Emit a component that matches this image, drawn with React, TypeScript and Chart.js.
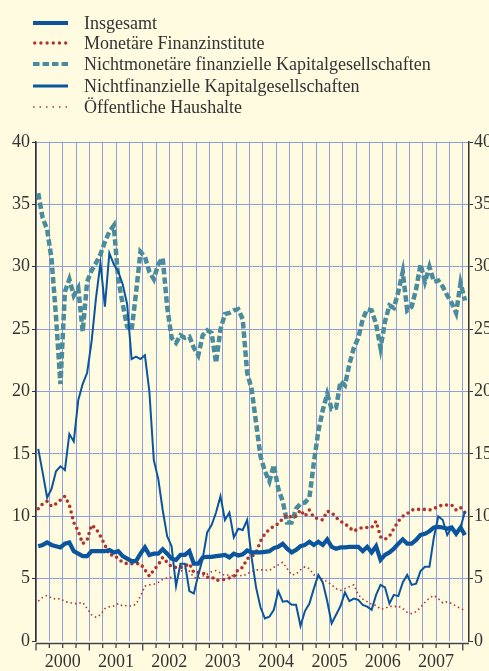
import React, { useEffect, useRef } from "react";
import { Chart, registerables } from "chart.js";

Chart.register(...registerables);

// Monthly values, Jan 2000 onwards (index 0 = Jan 2000)
const years = ["2000", "2001", "2002", "2003", "2004", "2005", "2006", "2007"];

const insgesamt = [
  7.6, 7.7, 7.9, 7.7, 7.6, 7.5, 7.8, 7.9, 7.2, 7.0, 6.8, 6.8,
  7.2, 7.2, 7.2, 7.2, 7.3, 7.1, 7.2, 6.8, 6.6, 6.4, 6.4, 7.0,
  7.5, 6.9, 7.0, 7.0, 7.35, 7.0, 6.6, 6.5, 6.9, 6.9, 7.2, 6.2,
  6.2, 6.7, 6.75, 6.75, 6.8, 6.85, 6.9, 6.7, 7.0, 6.85, 6.95, 7.25,
  7.1, 7.1, 7.1, 7.15, 7.2, 7.45, 7.55, 7.8, 7.4, 7.1, 7.3, 7.6,
  7.7, 7.95, 7.7, 7.95, 7.7, 8.15, 7.55, 7.4, 7.5, 7.5, 7.55, 7.55,
  7.55, 7.2, 7.55, 7.1, 7.6, 6.5, 6.9, 7.1, 7.4, 7.8, 8.15, 7.8,
  7.8, 8.1, 8.5, 8.6, 8.8, 9.1, 9.15, 9.1, 9.0, 9.1, 8.6, 9.1,
  8.5,
];

const monetaereFinanzinstitute = [
  10.6, 11.0, 11.2, 10.8, 11.0, 11.3, 11.6, 10.9, 9.5, 8.8, 7.8, 8.1,
  9.3, 9.0, 8.4, 7.7, 6.9, 6.9, 6.6, 6.3, 6.2, 6.2, 6.2, 6.2,
  5.7, 5.2, 5.7, 6.1, 6.7, 6.3, 5.95, 5.9, 5.9, 6.0, 6.2, 5.5,
  5.5, 5.5, 5.1, 5.15, 4.85, 4.9, 4.95, 5.05, 5.15, 5.75, 5.9, 6.6,
  6.75, 7.1, 8.0, 8.6, 8.95, 9.2, 9.4, 9.8, 10.1, 9.9, 10.0, 10.5,
  10.0, 10.5, 9.9, 9.8, 9.7, 10.4, 10.3, 9.9, 9.6, 9.4, 9.1, 8.8,
  9.0, 9.1, 9.1, 9.1, 9.6, 8.35, 8.15, 8.4, 9.0, 9.6, 10.0, 10.2,
  10.5, 10.55, 10.55, 10.55, 10.5, 10.6, 10.8, 10.9, 10.9, 10.9, 10.5, 10.7,
  10.3,
];

const nichtmonetaereFinanz = [
  35.9, 33.9, 33.0, 30.6, 26.0, 20.6, 28.0, 29.0, 27.7, 28.3, 24.8, 28.8,
  29.7, 30.3, 31.0, 32.0, 32.8, 33.3, 29.0, 27.0, 25.2, 24.9, 27.9, 31.2,
  30.8, 29.6, 29.0, 30.2, 30.7, 26.8, 24.3, 23.9, 24.5, 24.3, 24.4, 23.5,
  22.9, 24.5, 24.9, 24.7, 22.3, 25.0, 26.2, 26.3, 26.5, 26.6, 25.8, 21.5,
  20.2, 17.5, 14.8, 13.6, 12.8, 14.1, 12.2, 11.2, 9.5, 9.5, 10.6, 11.0,
  11.1, 11.5, 14.3, 16.8, 18.5, 19.8, 18.6, 18.7, 20.8, 20.5, 22.2, 23.5,
  24.3, 25.8, 26.6, 26.5, 25.4, 23.5, 25.6, 26.9, 26.7, 28.0, 29.6, 26.5,
  26.8, 28.2, 30.2, 28.8, 30.0, 28.8, 28.9, 28.4, 27.7, 27.1, 26.3, 28.7,
  27.3,
];

const nichtfinanzielle = [
  15.4, 13.5, 11.5, 12.2, 13.6, 14.0, 13.7, 16.6, 16.0, 19.3, 20.6, 21.5,
  24.0, 27.5, 30.3, 26.8, 31.1, 30.2, 29.6, 28.6, 27.0, 22.6, 22.8, 22.6,
  22.9, 20.0, 14.5, 13.0, 10.5, 8.4, 7.6, 4.4, 6.2, 6.2, 4.0, 3.8,
  5.3, 6.6, 8.7, 9.3, 10.3, 11.6, 9.7, 10.3, 8.3, 9.0, 8.9, 9.7,
  6.7, 4.3, 2.7, 1.8, 1.95, 2.5, 4.0, 3.15, 3.2, 2.9, 2.9, 1.2,
  2.4, 3.0, 4.2, 5.3, 4.7, 3.2, 1.4, 2.1, 2.8, 3.9, 3.2, 3.4,
  3.3, 2.9, 2.75, 2.5, 3.7, 4.5, 4.3, 3.0, 3.7, 3.6, 4.7, 5.3,
  4.5, 4.6, 5.6, 5.95, 5.95, 8.3, 10.0, 9.7, 8.5, 9.1, 8.5, 9.1,
  10.4,
];

const oeffentlicheHaushalte = [
  3.2, 3.5, 3.65, 3.45, 3.35, 3.4, 3.15, 3.1, 3.0, 3.0, 3.1, 2.6,
  2.1, 1.9, 2.1, 2.6, 2.75, 2.8, 3.0, 2.8, 2.85, 2.8, 2.95, 3.6,
  4.4, 4.5, 4.55, 4.7, 4.95, 5.05, 5.1, 5.15, 5.55, 5.8, 5.6, 5.1,
  5.0, 5.2, 5.35, 5.55, 5.65, 5.45, 5.25, 5.3, 5.2, 5.3, 5.2, 5.4,
  5.55, 5.7, 5.7, 5.7, 5.65, 5.9, 6.1, 6.3, 5.8, 5.3, 5.35, 5.7,
  5.95, 5.8, 5.3, 5.25, 4.95, 4.75, 4.5, 4.2, 4.05, 4.2, 4.35, 4.5,
  3.7, 3.35, 3.15, 2.95, 2.85, 2.55, 2.6, 2.8, 2.75, 2.8, 2.6, 2.3,
  2.2, 2.35, 2.7, 3.1, 3.45, 3.65, 3.4, 3.05, 3.15, 3.0, 2.8, 2.6,
  2.45,
];

const BLUE = "#0B559F";
const RED = "#AE3530";
const TEAL = "#4A8B9E";
const GRID = "#8C9EDC";
const BG = "#FEFBE0";
const TEXT = "#333333";
const FONT = '"Liberation Serif", "Times New Roman", serif';

const legendItems = [
  { label: "Insgesamt", color: BLUE, width: 4, dash: "", cap: "butt" },
  { label: "Monetäre Finanzinstitute", color: RED, width: 3.4, dash: "0 6.2", cap: "round" },
  { label: "Nichtmonetäre finanzielle Kapitalgesellschaften", color: TEAL, width: 4, dash: "6.5 3", cap: "butt" },
  { label: "Nichtfinanzielle Kapitalgesellschaften", color: BLUE, width: 3, dash: "", cap: "butt" },
  { label: "Öffentliche Haushalte", color: RED, width: 1.5, dash: "1.5 5", cap: "butt" },
];
const legendRowsY = [22.7, 43.3, 64, 86, 107.3];

const toPoints = (arr: number[]) => arr.map((v, i) => ({ x: i, y: v }));

const bottomAxisPlugin = {
  id: "bottomAxis",
  afterDraw(chart: any) {
    const { ctx, chartArea } = chart;
    const xs = chart.scales.x;
    const y0 = chartArea.bottom + 2.5;
    ctx.save();
    ctx.strokeStyle = "#444444";
    ctx.lineWidth = 1.5;
    ctx.beginPath();
    ctx.moveTo(chartArea.left, y0);
    ctx.lineTo(chartArea.right, y0);
    ctx.stroke();
    ctx.lineWidth = 1.3;
    for (let k = 0; k <= years.length * 4; k++) {
      const px = xs.getPixelForValue(-0.5 + 3 * k);
      const len = k % 4 === 0 ? 7 : 4.5;
      ctx.beginPath();
      ctx.moveTo(px, y0);
      ctx.lineTo(px, y0 + len);
      ctx.stroke();
    }
    ctx.restore();
  },
};

export default function App() {
  const ref = useRef<HTMLCanvasElement | null>(null);

  useEffect(() => {
    document.body.style.margin = "0";
    document.body.style.background = BG;
    const canvas = ref.current;
    if (!canvas) return;
    const chart = new Chart(canvas, {
      type: "line",
      data: {
        datasets: [
          {
            label: "Insgesamt",
            data: toPoints(insgesamt),
            borderColor: BLUE,
            borderWidth: 4.2,
            pointRadius: 0,
            tension: 0,
          },
          {
            label: "Nichtfinanzielle Kapitalgesellschaften",
            data: toPoints(nichtfinanzielle),
            borderColor: BLUE,
            borderWidth: 2,
            pointRadius: 0,
            tension: 0,
          },
          {
            label: "Monetäre Finanzinstitute",
            data: toPoints(monetaereFinanzinstitute),
            borderColor: RED,
            borderWidth: 3.6,
            borderDash: [0, 5.8],
            borderCapStyle: "round",
            pointRadius: 0,
            tension: 0,
          },
          {
            label: "Öffentliche Haushalte",
            data: toPoints(oeffentlicheHaushalte),
            borderColor: RED,
            borderWidth: 1.6,
            borderDash: [1.5, 3],
            pointRadius: 0,
            tension: 0,
          },
          {
            label: "Nichtmonetäre finanzielle Kapitalgesellschaften",
            data: toPoints(nichtmonetaereFinanz),
            borderColor: TEAL,
            borderWidth: 4.5,
            borderDash: [6.5, 3],
            pointRadius: 0,
            tension: 0,
          },
        ],
      },
      options: {
        animation: false,
        responsive: false,
        maintainAspectRatio: false,
        layout: { padding: { top: 142, left: 0, right: 0, bottom: 0 } },
        plugins: { legend: { display: false }, tooltip: { enabled: false } },
        scales: {
          x: {
            type: "linear",
            min: -0.5,
            max: 96.9,
            afterBuildTicks: (scale: any) => {
              const t = [];
              for (let k = 0; k <= years.length * 4; k++) t.push({ value: -0.5 + 3 * k });
              scale.ticks = t;
            },
            afterFit: (scale: any) => {
              scale.height = 30;
              scale.paddingLeft = 0;
              scale.paddingRight = 0;
            },
            border: { display: false },
            grid: { color: GRID, lineWidth: 1, drawTicks: false },
            ticks: {
              autoSkip: false,
              maxRotation: 0,
              padding: 10,
              color: TEXT,
              font: { family: FONT, size: 18 },
              callback: (value: any) => {
                const k = Math.round((Number(value) + 0.5) / 3);
                if (k % 4 === 2) {
                  const yi = (k - 2) / 4;
                  return years[yi] ?? "";
                }
                return "";
              },
            },
          },
          y: {
            position: "left",
            min: 0,
            max: 40,
            afterFit: (scale: any) => {
              scale.width = 36;
            },
            border: { display: true, color: "#333333", width: 1.5 },
            grid: {
              color: (c: any) => (c.tick && c.tick.value === 0 ? "#FFFFFF" : GRID),
              lineWidth: 1,
              tickLength: 4,
              tickColor: "#333333",
            },
            ticks: {
              stepSize: 5,
              padding: 2,
              color: TEXT,
              font: { family: FONT, size: 18 },
            },
          },
          y2: {
            position: "right",
            min: 0,
            max: 40,
            afterFit: (scale: any) => {
              scale.width = 41;
            },
            border: { display: true, color: "#333333", width: 1.5 },
            grid: { drawOnChartArea: false, tickLength: 4, tickColor: "#333333" },
            ticks: {
              stepSize: 5,
              padding: 1,
              color: TEXT,
              font: { family: FONT, size: 18 },
            },
          },
        },
      },
      plugins: [bottomAxisPlugin],
    } as any);
    return () => chart.destroy();
  }, []);

  return (
    <div
      style={{
        position: "fixed",
        left: 0,
        top: 0,
        width: 489,
        height: 671,
        overflow: "hidden",
        background: BG,
      }}
    >
      <canvas
        ref={ref}
        width={510}
        height={671}
        style={{ position: "absolute", left: 0, top: 0, width: 510, height: 671, display: "block" }}
      />
      {legendItems.map((it, i) => (
        <div
          key={it.label}
          style={{
            position: "absolute",
            left: 33,
            top: legendRowsY[i] - 11,
            height: 22,
            display: "flex",
            alignItems: "center",
            whiteSpace: "nowrap",
          }}
        >
          <svg width={36} height={8} style={{ display: "block" }}>
            <line
              x1={it.cap === "round" ? 1.7 : 0}
              y1={4}
              x2={35}
              y2={4}
              stroke={it.color}
              strokeWidth={it.width}
              strokeDasharray={it.dash || undefined}
              strokeLinecap={it.cap as any}
            />
          </svg>
          <span
            style={{
              marginLeft: 15,
              fontFamily: FONT,
              fontSize: 18,
              color: TEXT,
              lineHeight: "22px",
            }}
          >
            {it.label}
          </span>
        </div>
      ))}
    </div>
  );
}
